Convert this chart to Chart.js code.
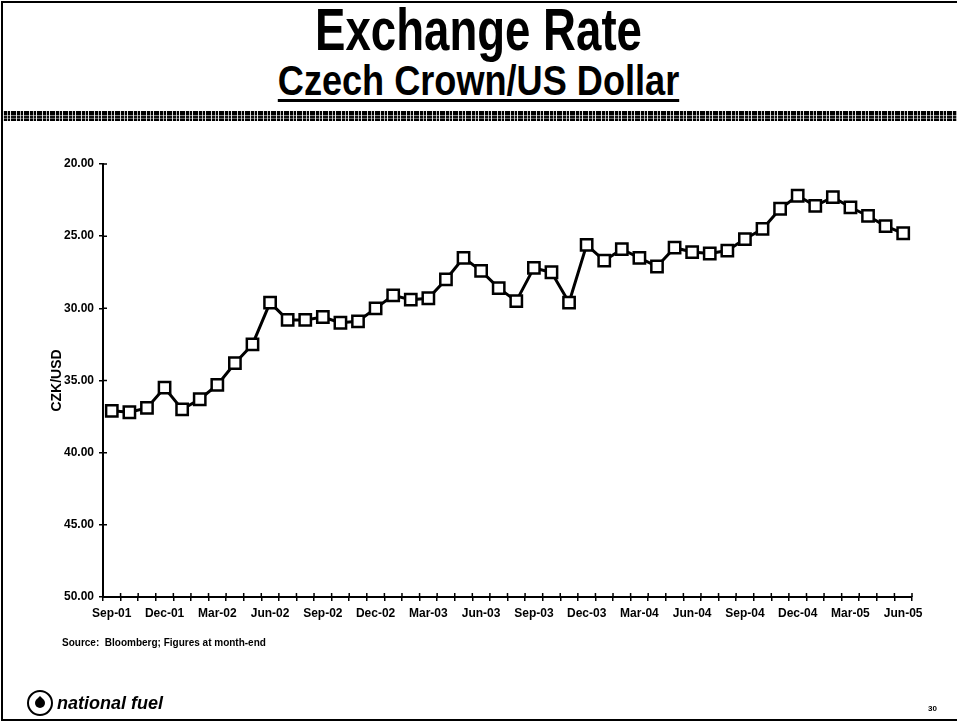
<!DOCTYPE html>
<html lang="en">
<head>
<meta charset="UTF-8">
<title>Exchange Rate - Czech Crown/US Dollar</title>
<script src="https://cdn.jsdelivr.net/npm/chart.js"></script>
<style>
  body { margin: 0; background: #fff; font-family: "Liberation Sans", Arial, sans-serif; }
  #page { position: relative; width: 957px; height: 722px; overflow: hidden; background: #fff; }
  .frame { position: absolute; left: 1px; top: 1px; width: 970px; height: 716px;
           border-left: 2px solid #000; border-top: 2px solid #000; border-bottom: 2px solid #000; }
  .t1, .t2 { position: absolute; left: 0; width: 957px; text-align: center; font-weight: bold;
             line-height: 1; color: #000; }
  .t1 { top: 0; font-size: 60px; transform: scaleX(0.76); }
  .t2 { top: 60px; font-size: 42px; transform: scaleX(0.86); text-decoration: underline;
        text-decoration-thickness: 3px; text-underline-offset: 4px; }
  .band { position: absolute; left: 3px; right: 0; top: 111px; height: 10px;
          background-image:
            repeating-linear-gradient(90deg, rgba(255,255,255,.85) 0 1px, transparent 1px 4px, rgba(255,255,255,.7) 4px 5px, transparent 5px 7px, rgba(255,255,255,.9) 7px 8px, transparent 8px 13px),
            repeating-linear-gradient(0deg, #000 0 2px, #666 2px 3px, #111 3px 5px, #888 5px 6px, #000 6px 8px); }
  canvas { position: absolute; left: 0; top: 0; }
  .src { position: absolute; left: 62px; top: 637px; font-size: 10px; font-weight: bold; }
  .logo { position: absolute; left: 27px; top: 690px; width: 22px; height: 22px; border: 2px solid #000; border-radius: 50%; }
  .logo::after { content: ""; position: absolute; left: 6px; top: 6px; width: 10px; height: 10px; background: #000;
                 border-radius: 0 50% 50% 50%; transform: rotate(45deg); }
  .brand { position: absolute; left: 57px; top: 693px; font-size: 18px; font-weight: bold; font-style: italic; }
  .pnum { position: absolute; left: 928px; top: 704px; font-size: 8px; font-weight: bold; }
</style>
</head>
<body>
<div id="page">
  <div class="frame"></div>
  <div class="t1">Exchange Rate</div>
  <div class="t2">Czech Crown/US Dollar</div>
  <div class="band"></div>
  <canvas id="myChart" width="957" height="722"></canvas>
  <div class="src">Source:&nbsp; Bloomberg; Figures at month-end</div>
  <div class="logo"></div>
  <div class="brand">national fuel</div>
  <div class="pnum">30</div>
</div>
<script>
  // month-end CZK per USD, Sep-01 .. Jun-05
  const months = [
    'Sep-01', 'Oct-01', 'Nov-01', 'Dec-01',
    'Jan-02', 'Feb-02', 'Mar-02', 'Apr-02', 'May-02', 'Jun-02', 'Jul-02', 'Aug-02', 'Sep-02', 'Oct-02', 'Nov-02', 'Dec-02',
    'Jan-03', 'Feb-03', 'Mar-03', 'Apr-03', 'May-03', 'Jun-03', 'Jul-03', 'Aug-03', 'Sep-03', 'Oct-03', 'Nov-03', 'Dec-03',
    'Jan-04', 'Feb-04', 'Mar-04', 'Apr-04', 'May-04', 'Jun-04', 'Jul-04', 'Aug-04', 'Sep-04', 'Oct-04', 'Nov-04', 'Dec-04',
    'Jan-05', 'Feb-05', 'Mar-05', 'Apr-05', 'May-05', 'Jun-05'
  ];
  const czkUsd = [
    37.1, 37.2, 36.9, 35.5,
    37.0, 36.3, 35.3, 33.8, 32.5, 29.6, 30.8, 30.8, 30.6, 31.0, 30.9, 30.0,
    29.1, 29.4, 29.3, 28.0, 26.5, 27.4, 28.6, 29.5, 27.2, 27.5, 29.6, 25.6,
    26.7, 25.9, 26.5, 27.1, 25.8, 26.1, 26.2, 26.0, 25.2, 24.5, 23.1, 22.2,
    22.9, 22.3, 23.0, 23.6, 24.3, 24.8
  ];
  const yMin = 20;
  const yMax = 50;
  const yStep = 5;

  const tickFont = { family: '"Liberation Sans", Arial, sans-serif', size: 12, weight: 'bold' };

  // the old chart has tick marks that cross the axis, so add the inner half
  const innerTicks = {
    id: 'innerTicks',
    beforeDatasetsDraw(chart) {
      const ctx = chart.ctx;
      const xs = chart.scales.x;
      const ys = chart.scales.y;
      const step = xs.getPixelForValue(1) - xs.getPixelForValue(0);
      ctx.save();
      ctx.strokeStyle = '#000';
      ctx.lineWidth = 1.5;
      ctx.beginPath();
      for (let i = 0; i <= months.length; i++) {
        const x = xs.getPixelForValue(0) - step / 2 + i * step;
        ctx.moveTo(x, xs.top);
        ctx.lineTo(x, xs.top - 4);
      }
      ys.ticks.forEach(t => {
        const y = ys.getPixelForValue(t.value);
        ctx.moveTo(ys.right, y);
        ctx.lineTo(ys.right + 4, y);
      });
      ctx.stroke();
      ctx.restore();
    }
  };

  new Chart(document.getElementById('myChart').getContext('2d'), {
    type: 'line',
    data: {
      labels: months,
      datasets: [{
        label: 'CZK/USD',
        data: czkUsd,
        borderColor: '#000',
        borderWidth: 3,
        tension: 0,
        pointStyle: 'rect',
        pointRadius: 8,
        pointBackgroundColor: '#fff',
        pointBorderColor: '#000',
        pointBorderWidth: 2.5
      }]
    },
    options: {
      responsive: false,
      animation: false,
      layout: { padding: { left: 38, right: 45, top: 164, bottom: 77 } },
      plugins: { legend: { display: false }, tooltip: { enabled: false } },
      scales: {
        x: {
          offset: true,
          afterFit: s => { s.height = 48; },
          grid: { drawOnChartArea: false, offset: true, tickLength: 4, color: '#000', lineWidth: 1.5 },
          border: { display: true, color: '#000', width: 2 },
          ticks: {
            autoSkip: false, maxRotation: 0, padding: 5, color: '#000', font: tickFont,
            callback: (v, i) => (i % 3 === 0 ? months[i] : '')
          }
        },
        y: {
          reverse: true,
          min: yMin,
          max: yMax,
          afterFit: s => { s.width = 65; },
          grid: { drawOnChartArea: false, tickLength: 4, color: '#000', lineWidth: 1.5 },
          border: { display: true, color: '#000', width: 2 },
          ticks: { stepSize: yStep, padding: 5, color: '#000', font: tickFont, callback: v => v.toFixed(2) },
          title: {
            display: true, text: 'CZK/USD', color: '#000',
            font: { family: '"Liberation Sans", Arial, sans-serif', size: 14, weight: 'bold' },
            padding: { top: 11, bottom: 0 }
          }
        }
      }
    },
    plugins: [innerTicks]
  });
</script>
</body>
</html>
